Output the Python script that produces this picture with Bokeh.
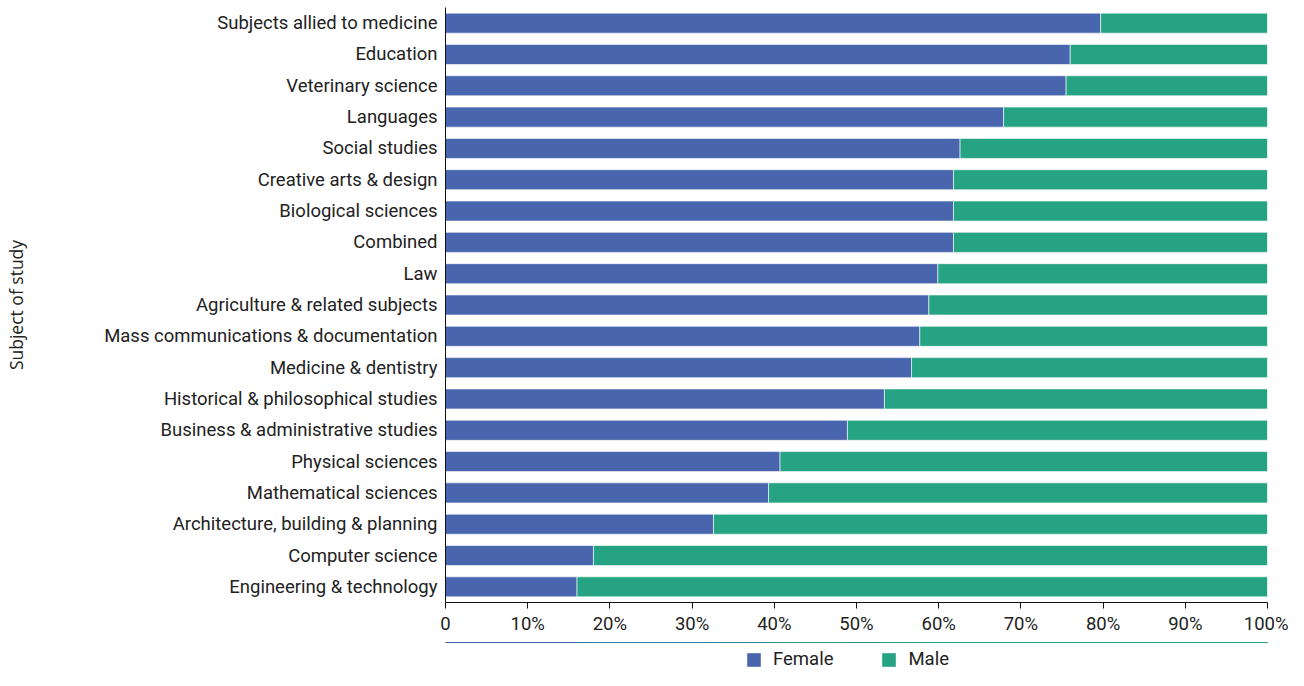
import math
from bokeh.plotting import figure
from bokeh.layouts import column
from bokeh.models import Range1d, FixedTicker, Legend, LegendItem, ColumnDataSource
from bokeh.embed import file_html
from bokeh.resources import INLINE

subjects = [
    "Subjects allied to medicine",
    "Education",
    "Veterinary science",
    "Languages",
    "Social studies",
    "Creative arts & design",
    "Biological sciences",
    "Combined",
    "Law",
    "Agriculture & related subjects",
    "Mass communications & documentation",
    "Medicine & dentistry",
    "Historical & philosophical studies",
    "Business & administrative studies",
    "Physical sciences",
    "Mathematical sciences",
    "Architecture, building & planning",
    "Computer science",
    "Engineering & technology",
]
female = [79.7, 76.0, 75.5, 67.9, 62.6, 61.8, 61.8, 61.8, 59.9, 58.8,
          57.7, 56.7, 53.4, 48.9, 40.7, 39.3, 32.6, 18.0, 16.0]
male = [100 - f for f in female]
x_ticks = [0, 10, 20, 30, 40, 50, 60, 70, 80, 90, 100]
x_tick_labels = ["0", "10%", "20%", "30%", "40%", "50%", "60%", "70%", "80%", "90%", "100%"]
series_names = ["Female", "Male"]

n = len(subjects)
ypos = [n - 1 - i for i in range(n)]
female_end = female
male_end = [f + m for f, m in zip(female, male)]
src = ColumnDataSource(dict(y=ypos, f0=[0] * n, f1=female_end, m0=female, m1=male_end))

FEMALE_C = "#4965ae"
MALE_C = "#26a382"
TEXT_FONT = "Roboto"
FS = "18.5px"

p = figure(width=1288, height=642, output_backend="svg", toolbar_location=None,
           x_range=Range1d(0, 100), y_range=Range1d(-0.5, n - 0.5),
           min_border_left=445, min_border_right=21, min_border_top=7, min_border_bottom=40)
p.outline_line_color = None
p.xgrid.visible = False
p.ygrid.visible = False

rf = p.hbar(y="y", left="f0", right="f1", height=0.64, source=src,
            fill_color=FEMALE_C, line_color="white", line_alpha=0.6, line_width=1)
rm = p.hbar(y="y", left="m0", right="m1", height=0.64, source=src,
            fill_color=MALE_C, line_color="white", line_alpha=0.6, line_width=1)

# x axis
p.xaxis.ticker = FixedTicker(ticks=x_ticks)
p.xaxis.major_label_overrides = {t: l for t, l in zip(x_ticks, x_tick_labels)}
p.xaxis.minor_tick_line_color = None
p.xaxis.major_tick_in = 0
p.xaxis.major_tick_out = 6
p.xaxis.axis_line_color = "#111111"
p.xaxis.major_tick_line_color = "#111111"
p.xaxis.major_label_text_font = TEXT_FONT
p.xaxis.major_label_text_font_size = FS
p.xaxis.major_label_text_color = "#222222"
p.xaxis.major_label_standoff = 4

# y axis
p.yaxis.ticker = FixedTicker(ticks=ypos)
p.yaxis.major_label_overrides = {y: s for y, s in zip(ypos, subjects)}
p.yaxis.minor_tick_line_color = None
p.yaxis.major_tick_line_color = None
p.yaxis.major_tick_in = 0
p.yaxis.major_tick_out = 0
p.yaxis.axis_line_color = "#111111"
p.yaxis.major_label_text_font = TEXT_FONT
p.yaxis.major_label_text_font_size = FS
p.yaxis.major_label_text_color = "#222222"
p.yaxis.major_label_standoff = 8
p.yaxis.axis_label = "Subject of study"
p.yaxis.axis_label_standoff = 73
p.yaxis.axis_label_text_font = "Open Sans"
p.yaxis.axis_label_text_font_size = "17.5px"
p.yaxis.axis_label_text_font_style = "normal"
p.yaxis.axis_label_text_color = "#222222"

# legend strip below the chart (its bars lie outside its visible range; only the legend shows)
leg_h = 28
p2 = figure(width=1288, height=leg_h, output_backend="svg", toolbar_location=None,
            x_range=Range1d(0, 100), y_range=Range1d(-60, -59),
            x_axis_location=None, y_axis_location=None, min_border=0)
p2.outline_line_color = None
p2.xgrid.visible = False
p2.ygrid.visible = False
lf = p2.hbar(y="y", left="f0", right="f1", height=0.64, source=src,
             fill_color=FEMALE_C, line_color=None)
lm = p2.hbar(y="y", left="m0", right="m1", height=0.64, source=src,
             fill_color=MALE_C, line_color=None)

legend = Legend(items=[LegendItem(label=series_names[0], renderers=[lf]),
                       LegendItem(label=series_names[1], renderers=[lm])],
                orientation="horizontal", location=(300, 0),
                glyph_width=17, glyph_height=17, label_standoff=11, spacing=47,
                padding=0, margin=0, border_line_color=None, background_fill_alpha=0,
                label_text_font=TEXT_FONT, label_text_font_size=FS, label_text_color="#222222",
                label_height=17)
p2.add_layout(legend, "center")

layout = column(p, p2, spacing=0)
open("out.html", "w").write(file_html(layout, INLINE))
